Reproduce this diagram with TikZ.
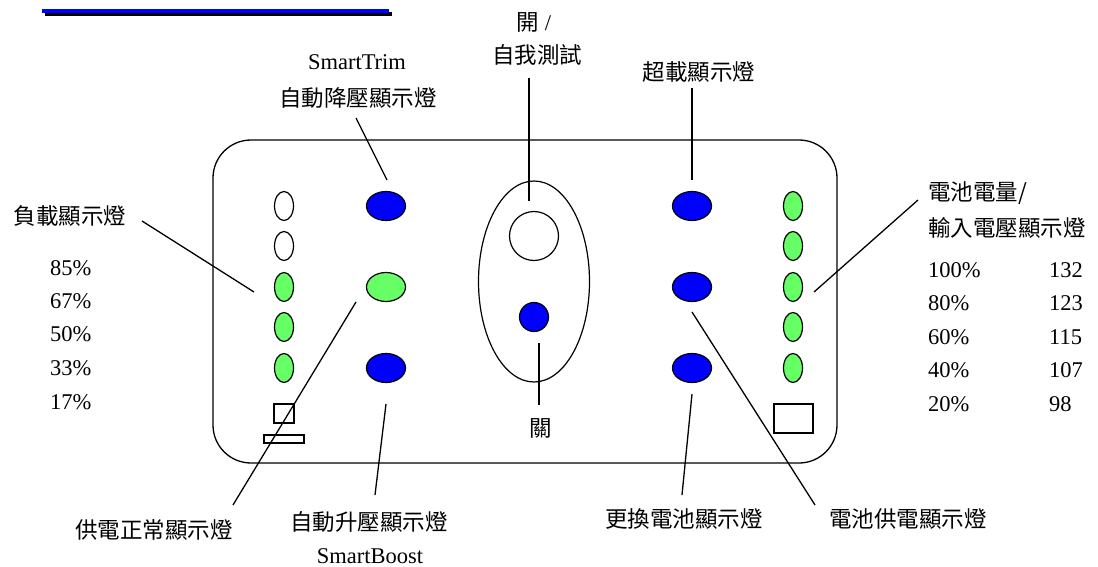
\documentclass[tikz,border=0pt]{standalone}
\usepackage{fontspec}
\setmainfont{Liberation Serif}
\newfontfamily\cjk{Noto Sans CJK TC}
\usetikzlibrary{shapes.geometric}
\definecolor{ledblue}{HTML}{0000FF}
\definecolor{ledgreen}{HTML}{66FF66}
\begin{document}
\begin{tikzpicture}[x=1pt,y=-1pt,
  txt/.style={inner sep=0pt,font=\fontsize{22.5}{27}\selectfont},
  ctxt/.style={inner sep=0pt,font=\fontsize{22.5}{27}\selectfont\cjk},
  ledv/.style={ellipse,draw,line width=1.2pt,inner sep=0pt,minimum width=19pt,minimum height=29pt},
  ledh/.style={ellipse,draw,line width=1.2pt,inner sep=0pt,minimum width=39pt,minimum height=29pt},
  conn/.style={line width=1.3pt},
  frame/.style={draw,line width=1.3pt}]
\useasboundingbox (0,0) rectangle (1098,567);
% header bar
\fill[black] (45,12) rectangle (392,16);
\fill[ledblue] (42,9) rectangle (389,13);
% panel
\draw[frame,rounded corners=38pt] (213,140) rectangle (837,463);
% left load column
\node[ledv,fill=white] (l1) at (284,206) {};
\node[ledv,fill=white] (l2) at (284,246) {};
\node[ledv,fill=ledgreen] (l3) at (284,287) {};
\node[ledv,fill=ledgreen] (l4) at (284,327) {};
\node[ledv,fill=ledgreen] (l5) at (284,368) {};
\node[draw,line width=1.1pt,minimum width=20pt,minimum height=19pt,inner sep=0pt] (lsq) at (284,413.5) {};
\node[draw,line width=1.1pt,minimum width=40pt,minimum height=8pt,inner sep=0pt] (lbar) at (284,439) {};
% second column
\node[ledh,fill=ledblue] (trim) at (386,206) {};
\node[ledh,fill=ledgreen] (online) at (386,287) {};
\node[ledh,fill=ledblue] (boost) at (386,368) {};
% center switch
\node[ellipse,draw,line width=1.2pt,inner sep=0pt,minimum width=111pt,minimum height=201pt] (sw) at (534,281.5) {};
\node[circle,draw,line width=1.2pt,fill=white,inner sep=0pt,minimum size=49pt] (on) at (534,236) {};
\node[circle,draw,line width=1.2pt,fill=ledblue,inner sep=0pt,minimum size=29pt] (off) at (534,317) {};
% right blue column
\node[ledh,fill=ledblue] (over) at (692,206) {};
\node[ledh,fill=ledblue] (batt) at (692,287) {};
\node[ledh,fill=ledblue] (repl) at (692,368) {};
% right green column
\node[ledv,fill=ledgreen] (r1) at (793,206) {};
\node[ledv,fill=ledgreen] (r2) at (793,246) {};
\node[ledv,fill=ledgreen] (r3) at (793,287) {};
\node[ledv,fill=ledgreen] (r4) at (793,327) {};
\node[ledv,fill=ledgreen] (r5) at (793,368) {};
\node[draw,line width=1.1pt,minimum width=39pt,minimum height=29pt,inner sep=0pt] (rsq) at (793.5,418.5) {};
% labels
\node[txt] (trimA) at (357,62) {SmartTrim};
\node[ctxt] (trimB) at (358,98) {自動降壓顯示燈};
\node[txt] (onA) at (534,22) {\cjk 開\rm\ /};
\node[ctxt] (onB) at (537,55) {自我測試};
\node[ctxt] (overL) at (699,72) {超載顯示燈};
\node[ctxt] (loadL) at (70,216) {負載顯示燈};
\node[txt,anchor=west] (p85) at (50,268) {85\%};
\node[txt,anchor=west] (p67) at (50,301) {67\%};
\node[txt,anchor=west] (p50) at (50,334) {50\%};
\node[txt,anchor=west] (p33) at (50,368) {33\%};
\node[txt,anchor=west] (p17) at (50,402) {17\%};
\node[ctxt,anchor=west] (battA) at (928,193) {電池電量/};
\node[ctxt,anchor=west] (battB) at (928,228) {輸入電壓顯示燈};
\node[txt,anchor=west] (b100) at (928,270) {100\%};
\node[txt,anchor=west] (b80) at (928,303) {80\%};
\node[txt,anchor=west] (b60) at (928,337) {60\%};
\node[txt,anchor=west] (b40) at (928,370) {40\%};
\node[txt,anchor=west] (b20) at (928,404) {20\%};
\node[txt,anchor=west] (v132) at (1049,270) {132};
\node[txt,anchor=west] (v123) at (1049,303) {123};
\node[txt,anchor=west] (v115) at (1049,337) {115};
\node[txt,anchor=west] (v107) at (1049,370) {107};
\node[txt,anchor=west] (v98) at (1049,404) {98};
\node[ctxt] (offL) at (541,428) {關};
\node[ctxt] (onlineL) at (154,530) {供電正常顯示燈};
\node[ctxt] (boostA) at (369,522) {自動升壓顯示燈};
\node[txt] (boostB) at (370,556) {SmartBoost};
\node[ctxt] (replL) at (684,519) {更換電池顯示燈};
\node[ctxt] (battL) at (908,519) {電池供電顯示燈};
% connector end points
\coordinate (c1a) at (356,118); \coordinate (c1b) at (387,180);
\coordinate (c2a) at (142,221); \coordinate (c2b) at (254,292);
\coordinate (c3a) at (356,302); \coordinate (c3b) at (233,505);
\coordinate (c4a) at (386,404); \coordinate (c4b) at (375,495);
\coordinate (c5a) at (529,78);  \coordinate (c5b) at (529,201);
\coordinate (c6a) at (539,343); \coordinate (c6b) at (539,405);
\coordinate (c7a) at (692,88);  \coordinate (c7b) at (692,180);
\coordinate (c8a) at (692,394); \coordinate (c8b) at (682,495);
\coordinate (c9a) at (692,312); \coordinate (c9b) at (815,505);
\coordinate (c10a) at (814,292); \coordinate (c10b) at (918,200);
\foreach \i in {1,...,10} \draw[conn] (c\i a) -- (c\i b);
\end{tikzpicture}
\end{document}
